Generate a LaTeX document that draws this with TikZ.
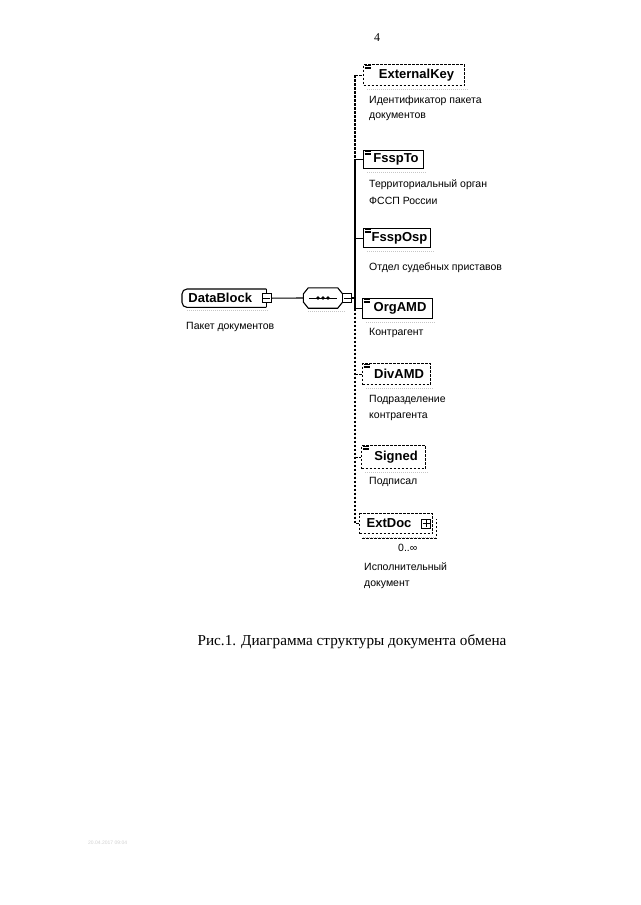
\documentclass[tikz,border=0pt]{standalone}
\usepackage{fontspec}
\setmainfont{Liberation Serif}
\newfontfamily\arialf{Liberation Sans}
\usetikzlibrary{calc}
\newcommand\listicon[1]{\foreach \k in {0,1.6,3.2}{\draw[line width=0.5pt] ($(#1.north west)+(1.5,1.5+\k)$) -- ++(6,0);}}
\begin{document}
\begin{tikzpicture}[x=1pt,y=-1pt,
 elem/.style={draw, line width=1.1pt, font=\arialf\bfseries\fontsize{13}{13}\selectfont, inner sep=0pt, anchor=north west},
 optelem/.style={elem, dash pattern=on 2.5pt off 1.5pt},
 desc/.style={font=\arialf\fontsize{10.5}{12}\selectfont, anchor=west, inner sep=0pt},
 link/.style={line width=1.1pt},
 optlink/.style={line width=1.1pt, dash pattern=on 2.5pt off 1.5pt},
 shadowline/.style={gray!45, line width=0.6pt, dash pattern=on 1pt off 1pt},
 sqbtn/.style={draw, fill=white, line width=0.8pt, minimum size=9pt, inner sep=0pt},
]
\useasboundingbox (0,0) rectangle (640,905);
\fill[white] (0,0) rectangle (640,905);

\node[font=\fontsize{12}{12}\selectfont] (pg) at (377,38) {4};

% spine reference
\coordinate (sp) at (355,0);

% child elements
\node[optelem, minimum width=101, minimum height=21] (ek) at (363,64) {\hspace*{5pt}ExternalKey};
\node[elem, minimum width=60, minimum height=18] (ft) at (363,150) {\hspace*{5pt}FsspTo};
\node[elem, minimum width=67, minimum height=19] (fo) at (363,228) {\hspace*{5pt}FsspOsp};
\node[elem, minimum width=70, minimum height=20] (oa) at (362,298) {\hspace*{5pt}OrgAMD};
\node[optelem, minimum width=68, minimum height=21] (da) at (362,363) {\hspace*{5pt}DivAMD};
\node[optelem, minimum width=64, minimum height=23] (sg) at (361,445) {\hspace*{5pt}Signed};
\node[optelem, minimum width=73, minimum height=20] (ed) at (359,513) {ExtDoc\hspace*{14pt}};

\foreach \n in {ek,ft,fo,oa,da,sg}{\listicon{\n}}
\foreach \n in {ek,ft,fo,oa,da,sg,ed}{\draw[shadowline] ($(\n.south west)+(4,3)$) -- ($(\n.south east)+(2,3)$);}

% ExtDoc stacked outline and plus button
\draw[optlink] ($(ed.south west)+(3,4)$) -- ($(ed.south east)+(3,4)$) -- ($(ed.north east)+(3,6)$);
\node[sqbtn] (edp) at ($(ed.east)+(-7,0)$) {};
\draw[line width=0.6pt] ($(edp.west)+(1.5,0)$) -- ($(edp.east)+(-1.5,0)$);
\draw[line width=0.6pt] ($(edp.north)+(0,1.5)$) -- ($(edp.south)+(0,-1.5)$);

% spine
\draw[optlink] (ek.west -| sp) -- (ft.west -| sp);
\draw[link] (ft.west -| sp) -- (oa.west -| sp);
\draw[optlink] (oa.west -| sp) -- (ed.west -| sp) -- (ed.west);
\draw[optlink] (ek.west -| sp) -- (ek.west);
\draw[link] (ft.west -| sp) -- (ft.west);
\draw[link] (fo.west -| sp) -- (fo.west);
\draw[link] (oa.west -| sp) -- (oa.west);
\draw[optlink] (da.west -| sp) -- (da.west);
\draw[optlink] (sg.west -| sp) -- (sg.west);

% descriptions
\node[desc] (d1a) at (369,101) {Идентификатор пакета};
\node[desc] (d1b) at (369,117) {документов};
\node[desc] (d2a) at (369,185) {Территориальный орган};
\node[desc] (d2b) at (369,201) {ФССП России};
\node[desc] (d3) at (369,268) {Отдел судебных приставов};
\node[desc] (d4) at (369,333) {Контрагент};
\node[desc] (d5a) at (369,400) {Подразделение};
\node[desc] (d5b) at (369,417) {контрагента};
\node[desc] (d6) at (369,482) {Подписал};
\node[desc] (occ) at (398,548) {0..∞};
\node[desc] (d7a) at (364,567) {Исполнительный};
\node[desc] (d7b) at (364,585) {документ};

% root element
\node[inner sep=0pt, minimum width=84, minimum height=18, anchor=north west,
      font=\arialf\bfseries\fontsize{13}{13}\selectfont] (db) at (182,289) {DataBlock\hspace*{8pt}};
\draw[link, rounded corners=5pt] (db.north east) -- (db.north west) -- (db.south west) -- (db.south east);
\draw[link] (db.north east) -- (db.south east);
\draw[shadowline] ($(db.south west)+(5,3)$) -- ($(db.south east)+(2,3)$);
\node[sqbtn] (dbm) at (db.east) {};
\draw[line width=0.6pt] ($(dbm.west)+(1.5,0)$) -- ($(dbm.east)+(-1.5,0)$);
\node[desc] (d0) at (186,327) {Пакет документов};

% sequence compositor
\node[minimum width=39, minimum height=20, inner sep=0pt] (seq) at (323,298) {};
\draw[link] ($(seq.west)+(0,-4)$) -- ($(seq.north west)+(5,0)$) -- ($(seq.north east)+(-5,0)$)
   -- ($(seq.east)+(0,-4)$) -- ($(seq.east)+(0,4)$) -- ($(seq.south east)+(-5,0)$)
   -- ($(seq.south west)+(5,0)$) -- ($(seq.west)+(0,4)$) -- cycle;
\draw[line width=0.9pt] ($(seq.center)+(-14,0)$) -- ($(seq.center)+(14,0)$);
\foreach \dx in {-5,0,5}{\fill ($(seq.center)+(\dx,0)$) circle (1.8pt);}
\node[sqbtn] (sqm) at ($(seq.east)+(4.5,0)$) {};
\draw[line width=0.6pt] ($(sqm.west)+(1.5,0)$) -- ($(sqm.east)+(-1.5,0)$);
\draw[shadowline] ($(seq.south west)+(5,3)$) -- ($(seq.south east)+(2,3)$);

\draw[link] (dbm.east) -- (seq.west);
\draw[link] (sqm.east) -- (sqm.east -| sp);

% caption
\node[font=\fontsize{15.2}{16}\selectfont] (cap) at (352,642) {Рис.1. Диаграмма структуры документа обмена};

% faint footer stamp
\node[font=\arialf\fontsize{5}{6}\selectfont, text=gray!35, anchor=west, inner sep=0pt] (stamp) at (88,843) {20.04.2017 09:04};
\end{tikzpicture}
\end{document}
